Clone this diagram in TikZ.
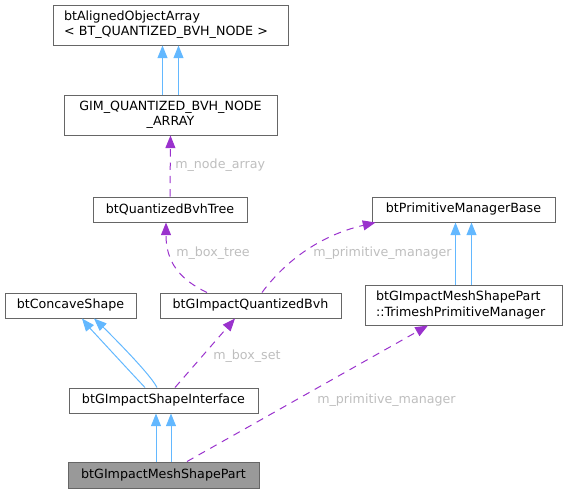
\documentclass[tikz,border=0pt]{standalone}
\usepackage{fontspec}
\setmainfont{DejaVu Sans}
\usetikzlibrary{arrows.meta,calc}
\definecolor{edgeblue}{HTML}{63B8FF}
\definecolor{edgepurple}{HTML}{9A32CD}
\definecolor{boxborder}{HTML}{666666}
\definecolor{mainfill}{HTML}{999999}
\definecolor{labelgray}{HTML}{BEBEBE}
\tikzset{
  box/.style={draw=boxborder, line width=0.75pt, fill=white, inner sep=0pt,
    font=\fontsize{9.5}{11.5}\selectfont, text=black},
  lbox/.style={box, align=left, inner xsep=8.25pt},
  inh/.style={draw=edgeblue, line width=0.75pt, -{Triangle[length=9.5pt,width=7.5pt]}},
  use/.style={draw=edgepurple, line width=0.75pt, dash pattern=on 5.5pt off 4.5pt,
    -{Triangle[length=9.5pt,width=7.5pt]}},
  elabel/.style={text=labelgray, font=\fontsize{9.5}{11.5}\selectfont, inner sep=0pt, anchor=west}
}
\begin{document}
\begin{tikzpicture}[x=0.75pt,y=-0.75pt]
\useasboundingbox (0,0) rectangle (568,493);
% nodes
\node[lbox, text width=159.75pt, minimum height=30pt] (aoa) at (170.5,25)
  {btAlignedObjectArray\\< BT\_QUANTIZED\_BVH\_NODE >};
\node[box, align=center, minimum width=159.75pt, minimum height=30pt] (gim) at (170.5,115)
  {GIM\_QUANTIZED\_BVH\_NODE\\\_ARRAY};
\node[box, minimum width=115.5pt, minimum height=18.75pt] (qbt) at (170,209.5) {btQuantizedBvhTree};
\node[box, minimum width=137.25pt, minimum height=18.75pt] (pmb) at (463.5,209.5) {btPrimitiveManagerBase};
\node[box, minimum width=98.25pt, minimum height=18.75pt] (cs) at (70.5,305.5) {btConcaveShape};
\node[box, minimum width=135.75pt, minimum height=18.75pt] (gqb) at (250.5,305.5) {btGImpactQuantizedBvh};
\node[lbox, text width=131.25pt, minimum height=30pt] (tpm) at (463.5,305)
  {btGImpactMeshShapePart\\::TrimeshPrimitiveManager};
\node[box, minimum width=141.75pt, minimum height=18.75pt] (gsi) at (163.5,400.5) {btGImpactShapeInterface};
\node[box, fill=mainfill, minimum width=143.25pt, minimum height=19.5pt] (gmsp) at (163.5,475) {btGImpactMeshShapePart};
% inheritance edges
\draw[inh] ($(gim.north)+(-8,0)$) -- ($(aoa.south)+(-8,0)$);
\draw[inh] ($(gim.north)+(8,0)$) -- ($(aoa.south)+(8,0)$);
\draw[inh] ($(tpm.north)+(-8,0)$) -- ($(pmb.south)+(-8,0)$);
\draw[inh] ($(tpm.north)+(8,0)$) -- ($(pmb.south)+(8,0)$);
\draw[inh] ($(gsi.north)+(-18.5,0)$) .. controls ($(gsi.north)+(-30,-12)$) and ($(cs.south)+(18,8)$) .. ($(cs.south)+(11.5,0)$);
\draw[inh] ($(gsi.north)+(-6.5,0)$) .. controls ($(gsi.north)+(-14,-15)$) and ($(cs.south)+(32,8)$) .. ($(cs.south)+(23.5,0)$);
\draw[inh] ($(gmsp.north)+(-7.5,0)$) -- ($(gsi.south)+(-7.5,0)$);
\draw[inh] ($(gmsp.north)+(7.5,0)$) -- ($(gsi.south)+(7.5,0)$);
% usage edges
\draw[use] (qbt.north) -- (gim.south);
\node[elabel] (l1) at (175,165) {m\_node\_array};
\draw[use] ($(gqb.north)+(-43.5,0)$) .. controls ($(gqb.north)+(-70.5,-13)$) and ($(qbt.south)+(-4,40)$) .. ($(qbt.south)+(-4,0)$);
\node[elabel] (l2) at (176,253) {m\_box\_tree};
\draw[use] ($(gqb.north)+(11.5,0)$) .. controls ($(gqb.north)+(34.5,-31)$) and ($(pmb.south west)+(-52,13)$) .. ($(pmb.south west)+(4,0)$);
\node[elabel] (l3) at (313,253) {m\_primitive\_manager};
\draw[use] ($(gsi.north)+(11.5,0)$) -- ($(gqb.south)+(-15.5,0)$);
\node[elabel] (l4) at (213,356) {m\_box\_set};
\draw[use] ($(gmsp.north)+(23.5,0)$) -- ($(tpm.south)+(-35.5,0)$);
\node[elabel] (l5) at (317,400) {m\_primitive\_manager};
\end{tikzpicture}
\end{document}
